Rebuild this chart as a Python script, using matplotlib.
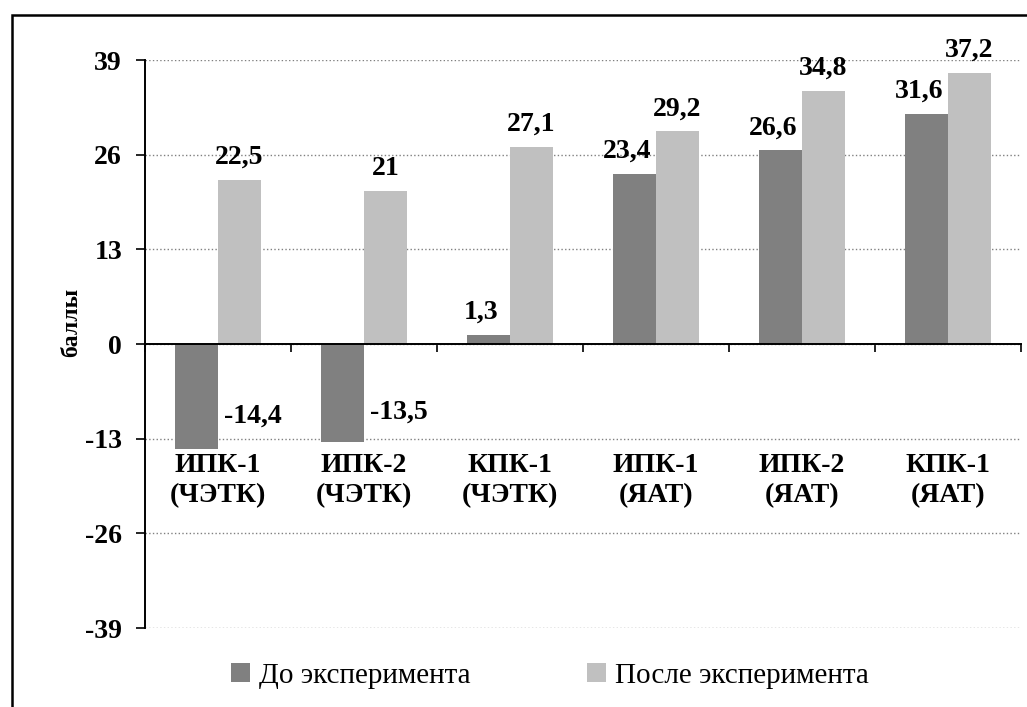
import numpy as np
import matplotlib.pyplot as plt
from matplotlib.patches import Rectangle

plt.rcParams['font.family'] = ['Liberation Serif', 'DejaVu Serif']

# data
groups = ['ИПК-1\n(ЧЭТК)', 'ИПК-2\n(ЧЭТК)', 'КПК-1\n(ЧЭТК)',
          'ИПК-1\n(ЯАТ)', 'ИПК-2\n(ЯАТ)', 'КПК-1\n(ЯАТ)']
before = [-14.4, -13.5, 1.3, 23.4, 26.6, 31.6]
after = [22.5, 21, 27.1, 29.2, 34.8, 37.2]
series_names = ['До эксперимента', 'После эксперимента']
yticks = [-39, -26, -13, 0, 13, 26, 39]

c_dark = '#808080'
c_light = '#c0c0c0'

fig = plt.figure(figsize=(10.27, 7.07), dpi=100)
ax = fig.add_axes([145/1027, 1-628/707, (1021-145)/1027, (628-60)/707])

x = np.arange(len(groups))
w = 0.295
b1 = ax.bar(x - w/2, before, w, color=c_dark, zorder=3, label=series_names[0])
b2 = ax.bar(x + w/2, after, w, color=c_light, zorder=3, label=series_names[1])

ax.set_xlim(-0.5, len(groups) - 0.5)
ax.set_ylim(-39, 39)
ax.set_yticks(yticks)
ax.set_yticklabels([str(t) for t in yticks], fontsize=20, fontweight='bold')
ax.set_xticks(np.arange(-0.5, len(groups), 1))
ax.set_xticklabels([])
ax.tick_params(axis='y', direction='out', length=6.5, width=1.2, pad=10)
ax.tick_params(axis='x', direction='out', length=6, width=1.2)

ax.grid(axis='y', linestyle=':', color='#808080', linewidth=1, zorder=0)
for s in ['top', 'right']:
    ax.spines[s].set_visible(False)
ax.spines['bottom'].set_position(('data', 0))
ax.spines['bottom'].set_linewidth(1.4)
ax.spines['left'].set_linewidth(1.4)
ax.spines['bottom'].set_zorder(4)

def fmt(v):
    s = f'{v:g}'
    return s.replace('.', ',')

# value labels
for i, v in enumerate(before):
    if v >= 0:
        ax.text(i - w/2 - 0.05, v + 2.2, fmt(v), ha='center', va='baseline',
                fontsize=20, fontweight='bold')
    else:
        ax.text(i + 0.04, v * 0.69, fmt(v), ha='left', va='center',
                fontsize=20, fontweight='bold')
for i, v in enumerate(after):
    ax.text(i + w/2, v + 2.2, fmt(v), ha='center', va='baseline',
            fontsize=20, fontweight='bold')

# category labels
for i, g in enumerate(groups):
    ax.text(i, -15.0, g, ha='center', va='top', fontsize=20,
            fontweight='bold', linespacing=1.27)

fig.text(72/1027, 1-322/707, 'баллы', rotation=90, ha='center', va='center',
         fontsize=17, fontweight='bold')

fig.legend(handles=[b1, b2], loc='center', bbox_to_anchor=(550/1027, 1-676/707),
           ncol=2, frameon=False, fontsize=21, handlelength=0.65, handleheight=0.65,
           handletextpad=0.3, columnspacing=4.0)

# frame of the chart area (cropped screenshot)
fig.patches.append(Rectangle((12/1027, -0.1), 1.2, 1.1 - 15/707,
                             transform=fig.transFigure, fill=False,
                             edgecolor='black', linewidth=1.8))

# caption line above, cut off by the crop
fig.text(95/1027, 1+7/707, 'Динамика группы (рис. 4) (в усл. ед.)',
         ha='left', va='baseline', fontsize=20)

fig.savefig('out.png', dpi=100)
